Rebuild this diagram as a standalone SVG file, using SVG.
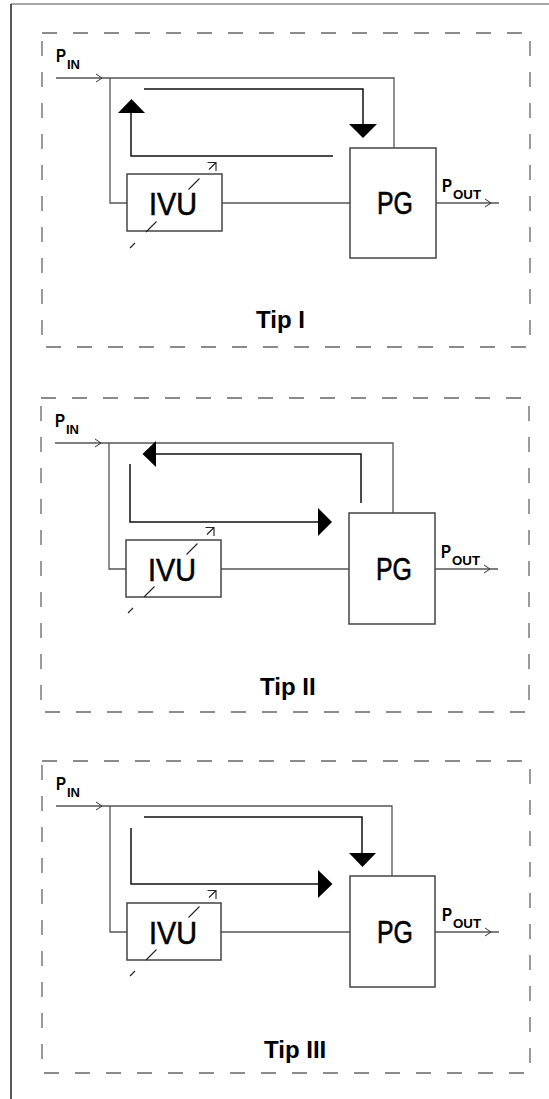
<svg xmlns="http://www.w3.org/2000/svg" width="549" height="1099" viewBox="0 0 549 1099">
<style>
.frame{fill:none;stroke:#666;stroke-width:1.3;stroke-dasharray:15 16}
.wire{fill:none;stroke:#555;stroke-width:1.3}
.loop{fill:none;stroke:#111;stroke-width:1.5}
.head{fill:#000;stroke:none}
.chev{fill:none;stroke:#333;stroke-width:1}
.box{fill:#fff;stroke:#444;stroke-width:1.5}
.var{fill:none;stroke:#222;stroke-width:1.1}
.lbl{font-family:"Liberation Sans",Arial,sans-serif;fill:#000}
.big{font-size:32px;stroke:#000;stroke-width:0.6}
.p{font-size:19px;font-weight:bold}
.sub{font-size:13px;font-weight:bold}
.tip{font-size:24px;font-weight:bold}
</style>
<rect x="0" y="0" width="549" height="1099" fill="#fff"/>
<line x1="11" y1="4" x2="549" y2="4" stroke="#888" stroke-width="1.5"/>
<line x1="11" y1="4" x2="11" y2="1099" stroke="#222" stroke-width="1.5"/>

<!-- Panel 1 -->
<g id="panel1">
  <rect class="frame" x="42" y="33" width="488" height="314"/>
  <g id="p1-connectors">
    <path class="wire" d="M56,78 H394 V148"/>
    <path class="chev" d="M96,74 L102,78 L96,82"/>
    <path class="wire" d="M110,78 V203 H127"/>
    <path class="wire" d="M222,203 H350"/>
    <path class="wire" d="M436,203 H499"/>
    <path class="chev" d="M485,199 L491,203 L485,207"/>
    <path class="loop" d="M144,89 H363 V124"/>
    <polygon class="head" points="349,124 377,124 363,138"/>
    <path class="loop" d="M333,156 H131 V113"/>
    <polygon class="head" points="118,113 145,113 131.5,99"/>
  </g>
  <g id="p1-in">
    <text class="lbl p" x="56" y="62" textLength="10" lengthAdjust="spacingAndGlyphs">P</text>
    <text class="lbl sub" x="67" y="69" textLength="13" lengthAdjust="spacingAndGlyphs">IN</text>
  </g>
  <g id="p1-ivu">
    <rect class="box" x="127" y="174" width="95" height="57"/>
    <text class="lbl big" x="149" y="215" textLength="48" lengthAdjust="spacingAndGlyphs">IVU</text>
    <path class="var" d="M130,248 L135,243 M146,232 L156.5,221.5 M188.5,189.5 L199.5,178.5 M209,169.5 L216,162.5 M207.5,162.5 H216 V171"/>
  </g>
  <g id="p1-pg">
    <rect class="box" x="350" y="148" width="86" height="110"/>
    <text class="lbl big" x="377" y="214" textLength="36" lengthAdjust="spacingAndGlyphs">PG</text>
  </g>
  <g id="p1-out">
    <text class="lbl p" x="442" y="192" textLength="10" lengthAdjust="spacingAndGlyphs">P</text>
    <text class="lbl sub" x="453" y="199" textLength="28" lengthAdjust="spacingAndGlyphs">OUT</text>
  </g>
  <text id="p1-title" class="lbl tip" x="256" y="328">Tip I</text>
</g>

<!-- Panel 2 -->
<g id="panel2" transform="translate(-1,365)">
  <rect class="frame" x="42" y="33" width="488" height="314"/>
  <g id="p2-connectors">
    <path class="wire" d="M56,78 H394 V148"/>
    <path class="chev" d="M96,74 L102,78 L96,82"/>
    <path class="wire" d="M110,78 V204 H127"/>
    <path class="wire" d="M222,204 H350"/>
    <path class="wire" d="M436,204 H499"/>
    <path class="chev" d="M485,200 L491,204 L485,208"/>
    <path class="loop" d="M156,89 H362 V138"/>
    <polygon class="head" points="157,76 157,102 143.5,89"/>
    <path class="loop" d="M131,99 V157 H319"/>
    <polygon class="head" points="319,143 319,171 333,157"/>
  </g>
  <g id="p2-in">
    <text class="lbl p" x="56" y="62" textLength="10" lengthAdjust="spacingAndGlyphs">P</text>
    <text class="lbl sub" x="67" y="69" textLength="13" lengthAdjust="spacingAndGlyphs">IN</text>
  </g>
  <g id="p2-ivu">
    <rect class="box" x="127" y="175" width="95" height="57"/>
    <text class="lbl big" x="149" y="216" textLength="48" lengthAdjust="spacingAndGlyphs">IVU</text>
    <path class="var" d="M129,248 L134,243 M145,232 L155.5,221.5 M187.5,189.5 L198.5,178.5 M208,169.5 L215,162.5 M206.5,162.5 H215 V171"/>
  </g>
  <g id="p2-pg">
    <rect class="box" x="350" y="148" width="86" height="111"/>
    <text class="lbl big" x="377" y="215" textLength="36" lengthAdjust="spacingAndGlyphs">PG</text>
  </g>
  <g id="p2-out">
    <text class="lbl p" x="442" y="193" textLength="10" lengthAdjust="spacingAndGlyphs">P</text>
    <text class="lbl sub" x="453" y="200" textLength="28" lengthAdjust="spacingAndGlyphs">OUT</text>
  </g>
  <text id="p2-title" class="lbl tip" x="261" y="330">Tip II</text>
</g>

<!-- Panel 3 -->
<g id="panel3" transform="translate(0,728)">
  <rect class="frame" x="42" y="33" width="488" height="312"/>
  <g id="p3-connectors">
    <path class="wire" d="M56,78 H392 V148"/>
    <path class="chev" d="M96,74 L102,78 L96,82"/>
    <path class="wire" d="M110,78 V204 H127"/>
    <path class="wire" d="M221,204 H350"/>
    <path class="wire" d="M435,204 H499"/>
    <path class="chev" d="M485,200 L491,204 L485,208"/>
    <path class="loop" d="M144,89 H362 V125"/>
    <polygon class="head" points="349,125 376,125 362.5,139"/>
    <path class="loop" d="M131,100 V156 H318"/>
    <polygon class="head" points="318,142 318,170 332.5,156"/>
  </g>
  <g id="p3-in">
    <text class="lbl p" x="56" y="62" textLength="10" lengthAdjust="spacingAndGlyphs">P</text>
    <text class="lbl sub" x="67" y="69" textLength="13" lengthAdjust="spacingAndGlyphs">IN</text>
  </g>
  <g id="p3-ivu">
    <rect class="box" x="127" y="175" width="94" height="57"/>
    <text class="lbl big" x="149" y="216" textLength="48" lengthAdjust="spacingAndGlyphs">IVU</text>
    <path class="var" d="M130,248 L135,243 M146,232 L156.5,221.5 M188.5,189.5 L199.5,178.5 M209,169.5 L216,162.5 M207.5,162.5 H216 V171"/>
  </g>
  <g id="p3-pg">
    <rect class="box" x="350" y="148" width="85" height="111"/>
    <text class="lbl big" x="377" y="215" textLength="36" lengthAdjust="spacingAndGlyphs">PG</text>
  </g>
  <g id="p3-out">
    <text class="lbl p" x="442" y="193" textLength="10" lengthAdjust="spacingAndGlyphs">P</text>
    <text class="lbl sub" x="453" y="200" textLength="28" lengthAdjust="spacingAndGlyphs">OUT</text>
  </g>
  <text id="p3-title" class="lbl tip" x="264" y="330">Tip III</text>
</g>
</svg>
